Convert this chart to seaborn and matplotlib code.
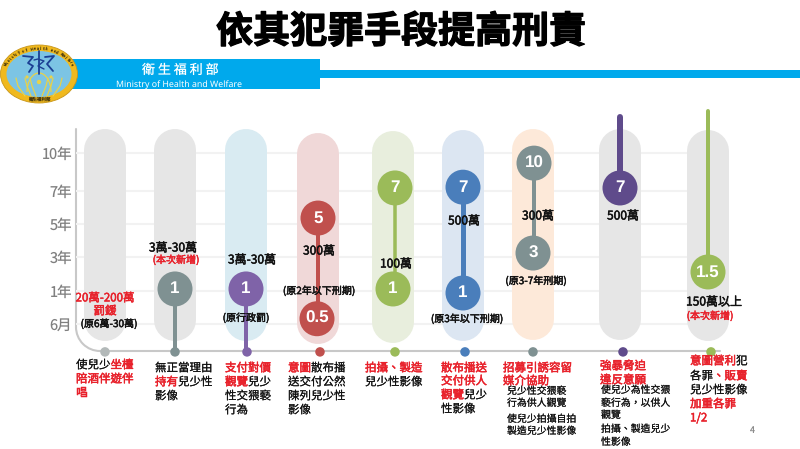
import numpy as np
import pandas as pd
import matplotlib.pyplot as plt
import matplotlib.patheffects as pe
import seaborn as sns
from matplotlib.patches import Ellipse, Rectangle, Arc, Circle

sns.set_theme(style="white")
plt.rcParams["font.family"] = ["Noto Sans CJK TC", "DejaVu Sans"]
plt.rcParams["text.hinting"] = "no_hinting"
plt.rcParams["text.hinting_factor"] = 1

RED = "#e8202a"
BLACK = "#111111"

# y axis: values (years) and the way they sit on the slide
tick_years = [0.5, 1, 3, 5, 7, 10]
tick_labels = ["6月", "1年", "3年", "5年", "7年", "10年"]
scale_years = [0.1, 0.5, 1, 3, 5, 7, 10, 20]
scale_height = [0, 36, 69, 103, 136, 169, 207, 260]

# one entry per column
pill_x = [105, 175, 246, 318, 393, 463, 533, 620, 708]
pill_top = [10.57, 10.57, 10.57, 9.92, 10.19, 10.38, 10.57, 10.57, 10.38]
pill_bottom = [0.56, 0.56, 0.56, 0.52, 0.53, 0.56, 0.58, 0.58, 0.56]
pill_color = ["#e6e6e6", "#e6e6e6", "#d9ebf2", "#f0d8d8", "#e8eedd",
              "#dce6f2", "#fde9d9", "#e6e6e6", "#e6e6e6"]
dot_x = [105, 175, 247, 320, 395, 465, 533, 623, 711]
dot_year = [0.19] * 9
dot_color = ["#b3b9b9", "#7f9192", "#7f63a8", "#c0504d", "#9bbb59",
             "#4a7ebb", "#7f9192", "#5f4b8b", "#9bbb59"]

# stems between circles (top, bottom)
stem_x = [175, 246, 318, 395, 463, 534, 620, 708]
stem_top = [1.12, 1.12, 5.36, 7.24, 7.3, 9.2, 16.8, 17.9]
stem_bottom = [0.19, 0.19, 0.58, 1.12, 0.97, 3.24, 7.24, 2.12]
stem_color = ["#7f9192", "#7f63a8", "#c0504d", "#9bbb59", "#4a7ebb", "#7f9192", "#5f4b8b", "#9bbb59"]
stem_width = [4, 4, 4, 3.5, 5, 4, 6, 4]

# circles
circle_x = [175, 246, 318, 317, 395, 393, 463, 463, 534, 533, 620, 708]
circle_year = [1.12, 1.12, 5.36, 0.58, 7.24, 1.12, 7.3, 0.97, 9.2, 3.24, 7.24, 2.12]
circle_text = ["1", "1", "5", "0.5", "7", "1", "7", "1", "10", "3", "7", "1.5"]
circle_color = ["#7f9192", "#7f63a8", "#c0504d", "#c0504d", "#9bbb59", "#9bbb59",
                "#4a7ebb", "#4a7ebb", "#7f9192", "#7f9192", "#5f4b8b", "#9bbb59"]

# amount labels: text, x, y, colour, size in px
amount_labels = [
    ("20萬-200萬", 105, 298, RED, 11.5), ("罰鍰", 105, 311, RED, 11.5),
    ("(原6萬-30萬)", 109, 324, BLACK, 10),
    ("3萬-30萬", 173, 248, BLACK, 12), ("(本次新增)", 176, 260, RED, 10),
    ("3萬-30萬", 252, 260, BLACK, 12), ("(原行政罰)", 246, 318, BLACK, 10),
    ("300萬", 319, 251, BLACK, 12), ("(原2年以下刑期)", 319, 291, BLACK, 10),
    ("100萬", 396, 264, BLACK, 12),
    ("500萬", 464, 221, BLACK, 12), ("(原3年以下刑期)", 467, 319, BLACK, 10),
    ("300萬", 538, 216, BLACK, 12), ("(原3-7年刑期)", 536, 281, BLACK, 10),
    ("500萬", 623, 216, BLACK, 12),
    ("150萬以上", 714, 302, BLACK, 12), ("(本次新增)", 710, 316, RED, 10),
]

# captions under the axis: x, y, size, runs of (text, colour)
captions = [
    (76, 365, 11.5, [("使兒少", BLACK), ("坐檯", RED)]),
    (76, 379, 11.5, [("陪酒伴遊伴", RED)]),
    (76, 393, 11.5, [("唱", RED)]),
    (155, 368, 11.5, [("無正當理由", BLACK)]),
    (155, 382, 11.5, [("持有", RED), ("兒少性", BLACK)]),
    (155, 396, 11.5, [("影像", BLACK)]),
    (225, 368, 11.5, [("支付對價", RED)]),
    (225, 382, 11.5, [("觀覽", RED), ("兒少", BLACK)]),
    (225, 396, 11.5, [("性交猥褻", BLACK)]),
    (225, 410, 11.5, [("行為", BLACK)]),
    (288, 368, 11.5, [("意圖", RED), ("散布播", BLACK)]),
    (288, 382, 11.5, [("送交付公然", BLACK)]),
    (288, 396, 11.5, [("陳列兒少性", BLACK)]),
    (288, 410, 11.5, [("影像", BLACK)]),
    (365, 368, 11.5, [("拍攝、製造", RED)]),
    (365, 382, 11.5, [("兒少性影像", BLACK)]),
    (441, 368, 11.5, [("散布播送", RED)]),
    (441, 381, 11.5, [("交付供人", RED)]),
    (441, 395, 11.5, [("觀覽", RED), ("兒少", BLACK)]),
    (441, 409, 11.5, [("性影像", BLACK)]),
    (503, 368, 11.5, [("招募引誘容留", RED)]),
    (503, 381, 11.5, [("媒介協助", RED)]),
    (507, 391, 9.9, [("兒少性交猥褻", BLACK)]),
    (507, 403, 9.9, [("行為供人觀覽", BLACK)]),
    (507, 419, 9.9, [("使兒少拍攝自拍", BLACK)]),
    (507, 431, 9.9, [("製造兒少性影像", BLACK)]),
    (600, 366, 11.5, [("強暴脅迫", RED)]),
    (600, 380, 11.5, [("違反意願", RED)]),
    (601, 390, 9.9, [("使兒少為性交猥", BLACK)]),
    (601, 403, 9.9, [("褻行為，以供人", BLACK)]),
    (601, 415, 9.9, [("觀覽", BLACK)]),
    (601, 429, 9.9, [("拍攝、製造兒少", BLACK)]),
    (601, 442, 9.9, [("性影像", BLACK)]),
    (690, 361, 11.5, [("意圖營利", RED), ("犯", BLACK)]),
    (690, 376, 11.5, [("各罪", BLACK), ("、販賣", RED)]),
    (690, 390, 11.5, [("兒少性影像", BLACK)]),
    (690, 404, 11.5, [("加重各罪", RED)]),
    (690, 418, 11.5, [("1/2", RED)]),
]


def to_height(v):
    return np.interp(v, scale_years, scale_height)


def to_year(h):
    return np.interp(h, scale_height, scale_years)


def px(size):
    return size * 0.72


fig = plt.figure(figsize=(8, 4.49), dpi=100)

# background layer, in slide pixels
bg = fig.add_axes([0, 0, 1, 1])
bg.set_xlim(0, 800)
bg.set_ylim(449, 0)
bg.axis("off")

bg.add_patch(Rectangle((70, 59), 250, 30, color="#00a9ec", lw=0))
bg.add_patch(Rectangle((320, 70), 480, 8, color="#00a9ec", lw=0))
bg.text(180, 70, "衛 生 福 利 部", color="white", fontsize=px(13), ha="center", va="center",
        family=["Noto Sans CJK TC", "DejaVu Sans"])
bg.text(179, 84.5, "Ministry of Health and Welfare", color="white", fontsize=px(8.8),
        fontweight="bold", ha="center", va="center", family=["Noto Sans", "DejaVu Sans"])
bg.text(401, 32, "依其犯罪手段提高刑責", color="black", fontsize=px(37), fontweight="black",
        ha="center", va="center",
        path_effects=[pe.withStroke(linewidth=0.9, foreground="black")])

# logo
bg.add_patch(Ellipse((39, 74), 77, 58, fc="#f0b91e", ec="#c8961a", lw=0.6))
bg.add_patch(Ellipse((39, 74), 65, 46, fc="#7cc4e4", ec="none"))
bg.plot([23, 33, 28, 33, 29], [56, 57, 63, 66, 72], color="#1b3f94", lw=1.3)
bg.plot([39, 39], [51, 74], color="#1b3f94", lw=1.3)
bg.plot([34, 38, 44, 38, 44], [60, 59, 61, 66, 69], color="#1b3f94", lw=1)
bg.plot([45, 54, 47, 53], [57, 56, 64, 71], color="#1b3f94", lw=1.3)
for x0, x1, x2 in [(25, 18, 16), (31, 27, 25), (53, 60, 62), (47, 51, 53), (36, 32, 30), (42, 46, 48)]:
    bg.plot([x0, x1, x2], [96, 86, 78], color="#e8d24a", lw=0.9)
bg.add_patch(Arc((39, 92), 24, 38, theta1=180, theta2=360, ec="#e8d24a", lw=0.9))
bg.add_patch(Circle((39, 82), 2.2, fc="#e8d24a", ec="none"))
bg.add_patch(Circle((27, 77), 1.6, fc="#e8d24a", ec="none"))
bg.add_patch(Circle((51, 77), 1.6, fc="#e8d24a", ec="none"))
bg.text(39, 99.5, "衛生福利部", fontsize=px(4.5), color="#4a3a10", ha="center", va="center")
logo_letters = "Ministry of Health and Welfare"
for letter, angle in zip(logo_letters, np.linspace(158, 22, len(logo_letters))):
    bg.text(39 + 35 * np.cos(np.radians(angle)), 74 - 25.5 * np.sin(np.radians(angle)), letter,
            fontsize=px(3.8), color="#4a3a10", rotation=angle - 90, ha="center", va="center")

# axis line with the rounded corner
bg.plot([76, 76], [129, 327], color="#c8c8c8", lw=1.5, solid_capstyle="round")
bg.add_patch(Arc((100, 327), 48, 48, theta1=90, theta2=180, ec="#c8c8c8", lw=1.5))
bg.plot([100, 720], [351, 351], color="#c8c8c8", lw=1.5)

# chart layer: x stays in slide pixels, y is the year scale
ax = fig.add_axes([0, (449 - 360) / 449, 1, 260 / 449])
ax.patch.set_alpha(0)
ax.set_yscale("function", functions=(to_height, to_year))
ax.set_xlim(0, 800)
ax.set_ylim(0.1, 20)
sns.despine(ax=ax, left=True, bottom=True, right=True, top=True)
ax.set_xticks([])
ax.set_yticks(tick_years)
ax.set_yticklabels(tick_labels, color="#808080", fontsize=px(14.5))
ax.minorticks_off()
ax.tick_params(axis="y", length=0, pad=-px(72), labelleft=True)
ax.hlines(tick_years, 76, 690, color="#f2f2f2", lw=1.5, zorder=0)

for x, top, bottom, color in zip(pill_x, pill_top, pill_bottom, pill_color):
    sns.lineplot(x=[x, x], y=[top, bottom], estimator=None, sort=False, color=color,
                 lw=px(42), solid_capstyle="round", ax=ax, zorder=1)

for x, top, bottom, color, width in zip(stem_x, stem_top, stem_bottom, stem_color, stem_width):
    sns.lineplot(x=[x, x], y=[top, bottom], estimator=None, sort=False, color=color,
                 lw=px(width), solid_capstyle="round", ax=ax, zorder=2)

dots = pd.DataFrame({"x": dot_x, "year": dot_year, "color": dot_color})
sns.scatterplot(data=dots, x="x", y="year", hue="color", palette={c: c for c in set(dot_color)},
                s=px(9.5) ** 2, linewidth=0, legend=False, ax=ax, zorder=3, clip_on=False)

circles = pd.DataFrame({"x": circle_x, "year": circle_year, "color": circle_color})
sns.scatterplot(data=circles, x="x", y="year", hue="color", palette={c: c for c in set(circle_color)},
                s=px(35) ** 2, linewidth=0, legend=False, ax=ax, zorder=4)
for x, year, label in zip(circle_x, circle_year, circle_text):
    ax.text(x, year, label, color="white", fontsize=px(17), fontweight="bold", ha="center",
            va="center", family=["Liberation Sans", "DejaVu Sans"], zorder=5)
ax.set_xlabel("")
ax.set_ylabel("")

# text layer on top
top_ax = fig.add_axes([0, 0, 1, 1])
top_ax.set_xlim(0, 800)
top_ax.set_ylim(449, 0)
top_ax.axis("off")
top_ax.patch.set_alpha(0)

for text, x, y, color, size in amount_labels:
    top_ax.text(x, y, text, color=color, fontsize=px(size), ha="center", va="center",
                path_effects=[pe.withStroke(linewidth=0.35, foreground=color)])

for x, y, size, runs in captions:
    for text, color in runs:
        stroke = 0.35 if color == RED else 0.1
        top_ax.text(x, y, text, color=color, fontsize=px(size), ha="left", va="center",
                    path_effects=[pe.withStroke(linewidth=stroke, foreground=color)])
        x += len(text) * size

top_ax.text(752, 430, "4", color="#8c8c8c", fontsize=px(9), ha="center", va="center")

fig.savefig("out.png", dpi=100)
